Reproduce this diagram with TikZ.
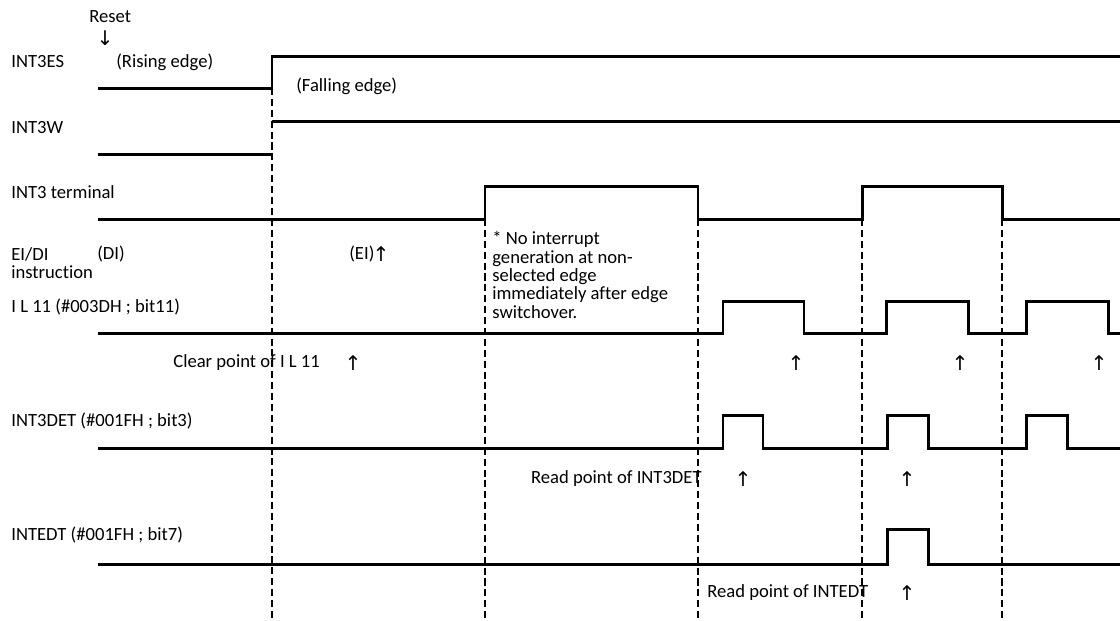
\documentclass[tikz,border=0pt]{standalone}
\usepackage{fontspec}
\usetikzlibrary{positioning}
\setmainfont{Carlito}[Ligatures=NoCommon]
\newfontfamily\arrowfont{DejaVu Sans}
\tikzset{
  sig/.style={line width=1.7pt,line join=miter},
  guide/.style={line width=0.8pt,dash pattern=on 4pt off 2.2pt},
  lbl/.style={anchor=west,inner sep=0pt,font=\fontsize{10.6}{12}\selectfont},
  arr/.style={inner sep=0pt,font=\arrowfont\fontsize{11.5}{12}\selectfont}
}
\begin{document}
\begin{tikzpicture}[x=0.02cm,y=-0.02cm]
\useasboundingbox (0,0) rectangle (1120,620);

% edge guides
\foreach \x/\y in {272/88,485/219,698/219,862/219,1002/219}
  \draw[guide] (\x,\y) -- (\x,620);

% waveforms
\draw[sig] (98,88) -- (272,88) -- (272,56) -- (1120,56);
\draw[sig] (98,154) -- (272,154);
\draw[sig] (272,121) -- (1120,121);
\draw[sig] (98,219) -| (485,186) -| (698,219) -| (862,186) -| (1002,219) -- (1120,219);
\draw[sig] (98,333) -| (723,301) -| (804,333) -| (886,301) -| (968,333) -| (1026,301) -| (1108,333) -- (1120,333);
\draw[sig] (98,448) -| (723,415) -| (763,448) -| (887,415) -| (928,448) -| (1026,415) -| (1067,448) -- (1120,448);
\draw[sig] (98,564) -| (887,529) -| (928,564) -- (1120,564);

% signal names
\node[lbl] (es) at (11,62) {INT3ES};
\node[lbl] (w) at (11,128) {INT3W};
\node[lbl] (term) at (11,192) {INT3 terminal};
\node[lbl,align=left,font=\fontsize{10.6}{9.8}\selectfont] (eidi) at (11,263) {EI/DI\\instruction};
\node[lbl] (il) at (11,307) {I L 11 (\#003DH ; bit11)};
\node[lbl] (det) at (11,421) {INT3DET (\#001FH ; bit3)};
\node[lbl] (edt) at (11,535) {INTEDT (\#001FH ; bit7)};

% notes
\node[lbl] (reset) at (89,17) {Reset};
\node[arr] (rarr) at (105,38) {↓};
\node[lbl] (rise) at (116,62) {(Rising edge)};
\node[lbl] (fall) at (296,86) {(Falling edge)};
\node[lbl] (di) at (97,254) {(DI)};
\node[lbl] (ei) at (349,254) {(EI)};
\node[arr] (eiarr) at (381,254) {↑};
\node[lbl,anchor=north west,align=left,font=\fontsize{10.6}{10.5}\selectfont] (note) at (492,231)
  {* No interrupt\\generation at non-\\selected edge\\immediately after edge\\switchover.};
\node[lbl] (clr) at (173,363) {Clear point of I L 11};
\foreach \x [count=\i] in {353,796,960,1099}
  \node[arr] (clr\i) at (\x,363) {↑};
\node[lbl,anchor=east] (rdet) at (702,479) {Read point of INT3DET};
\foreach \x [count=\i] in {743,907}
  \node[arr] (rdet\i) at (\x,479) {↑};
\node[lbl] (redt) at (707,593) {Read point of INTEDT};
\node[arr] (redt1) at (907,593) {↑};
\end{tikzpicture}
\end{document}
